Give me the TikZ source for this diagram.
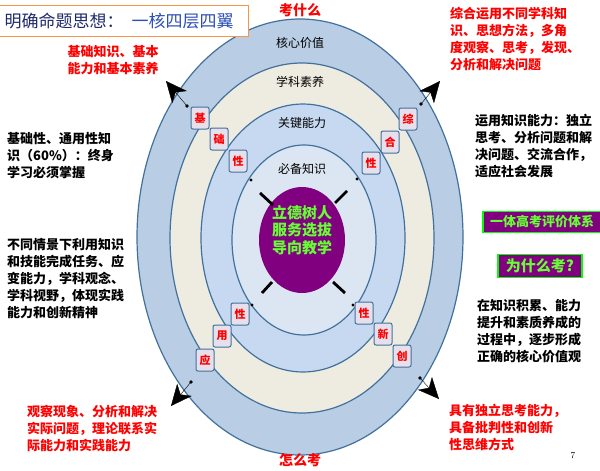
\documentclass[tikz,border=0pt]{standalone}
\usepackage{fontspec}
\newfontfamily\cjk{Noto Sans CJK SC}
\usetikzlibrary{arrows.meta}
\definecolor{ringline}{HTML}{41719C}
\definecolor{outerring}{HTML}{B9CDE5}
\definecolor{beigering}{HTML}{EEECE1}
\definecolor{keyring}{HTML}{C6D9F1}
\definecolor{basering}{HTML}{DCE6F2}
\definecolor{corepurple}{HTML}{800080}
\definecolor{coregreen}{HTML}{66FF33}
\definecolor{charfill}{HTML}{E6E0EC}
\definecolor{titleline}{HTML}{F79646}
\definecolor{titlenavy}{HTML}{1F2A6B}
\definecolor{titleblue}{HTML}{2D4FB8}

\begin{document}
\begin{tikzpicture}[x=1pt,y=-1pt,
  ring/.style={draw=ringline,line width=1.2pt},
  ringlabel/.style={font=\cjk\fontsize{12}{12}\selectfont},
  charbox/.style={draw=ringline,line width=1pt,fill=charfill,rounded corners=2pt,minimum width=18pt,minimum height=22pt,inner sep=0pt,text=red,font=\cjk\bfseries\fontsize{11}{11}\selectfont},
  note/.style={anchor=north west,inner sep=0pt,align=left,font=\cjk\bfseries\fontsize{13}{17}\selectfont},
  rednote/.style={note,text=red},
  greenbox/.style={draw=green,line width=1.2pt,fill=corepurple,text=coregreen,inner sep=4pt,font=\cjk\bfseries\fontsize{13}{13}\selectfont},
  wingarrow/.style={line width=0.4pt,-{Stealth[length=21pt,width=19pt,inset=6pt]}}]
\useasboundingbox (0,0) rectangle (600,471);
\fill[white] (0,0) rectangle (600,471);

\draw[ring,fill=outerring] (300,237) ellipse [x radius=163,y radius=218];
\draw[ring,fill=beigering] (302,238) ellipse [x radius=132,y radius=175];
\draw[ring,fill=keyring] (303,238) ellipse [x radius=102,y radius=134];
\draw[ring,fill=basering] (304,240) ellipse [x radius=72,y radius=95];
\fill[corepurple] (302,240) ellipse [x radius=43,y radius=53];

\node (core) at (302,230) [text=coregreen,align=center,inner sep=0pt,font=\cjk\bfseries\fontsize{15}{17.5}\selectfont] {立德树人\\服务选拔\\导向教学};
\node (value) at (300,43) [ringlabel] {核心价值};
\node (quality) at (300,82) [ringlabel] {学科素养};
\node (ability) at (302,123) [ringlabel] {关键能力};
\node (knowledge) at (302,169) [ringlabel] {必备知识};

\coordinate (ul1) at (260,193); \coordinate (ul2) at (273,205);
\coordinate (ur1) at (347,191); \coordinate (ur2) at (335,203);
\coordinate (ll1) at (262,293); \coordinate (ll2) at (272,282);
\coordinate (lr1) at (345,293); \coordinate (lr2) at (333,282);
\draw[line width=2.8pt] (ul1) -- (ul2);
\draw[line width=2.8pt] (ur1) -- (ur2);
\draw[line width=2.8pt] (ll1) -- (ll2);
\draw[line width=2.8pt] (lr1) -- (lr2);
\fill (251,180) circle (1.6) (357,179) circle (1.6) (252,305) circle (1.6) (353,305) circle (1.6);

\coordinate (dotul) at (187,106); \coordinate (tipul) at (166,81);
\coordinate (dotur) at (421,104); \coordinate (tipur) at (440,81);
\coordinate (dotll) at (191,382); \coordinate (tipll) at (171,406);
\coordinate (dotlr) at (420,378); \coordinate (tiplr) at (439,399);
\fill (dotul) circle (1.8) (dotur) circle (1.8) (dotll) circle (1.8) (dotlr) circle (1.8);
\draw[wingarrow] (dotul) -- (tipul);
\draw[wingarrow] (dotur) -- (tipur);
\draw[wingarrow] (dotll) -- (tipll);
\draw[wingarrow] (dotlr) -- (tiplr);

\node (ji) at (200,118) [charbox] {基};
\node (chu) at (219,139) [charbox] {础};
\node (xingA) at (238,161) [charbox] {性};
\node (zong) at (408,119) [charbox] {综};
\node (he) at (390,142) [charbox] {合};
\node (xingB) at (371,163) [charbox] {性};
\node (xingC) at (240,314) [charbox] {性};
\node (yong) at (222,336) [charbox] {用};
\node (ying) at (205,360) [charbox] {应};
\node (xingD) at (364,313) [charbox] {性};
\node (xin) at (383,334) [charbox] {新};
\node (chuang) at (402,356) [charbox] {创};

\node (title) at (-10,5) [anchor=north west,draw=titleline,line width=1.2pt,fill=white,text width=244pt,inner xsep=7pt,minimum height=31pt,align=left,font=\cjk\fontsize{17}{17}\selectfont] {\hspace*{7pt}\textcolor{titlenavy}{明确命题思想：}\hspace{8pt}\textcolor{titleblue}{一核四层四翼}};
\node (what) at (300,10) [text=red,font=\cjk\bfseries\fontsize{14}{14}\selectfont] {考什么};
\node (how) at (300,460) [text=red,font=\cjk\bfseries\fontsize{14}{14}\selectfont] {怎么考};
\node (system) at (542,222) [greenbox,minimum width=118pt] {一体高考评价体系};
\node (why) at (540,266) [greenbox,inner xsep=8pt,font=\cjk\bfseries\fontsize{15}{15}\selectfont] {为什么考?};

\node (basic) at (113,45) [rednote,align=center,anchor=north] {基础知识、基本\\能力和基本素养};
\node (basicnote) at (7,132) [note] {基础性、通用性知\\识（60\%）：终身\\学习必须掌握};
\node (applynote) at (7,238) [note] {不同情景下利用知识\\和技能完成任务、应\\变能力，学科观念、\\学科视野，体现实践\\能力和创新精神};
\node (applyred) at (27,405) [rednote] {观察现象、分析和解决\\实际问题，理论联系实\\际能力和实践能力};
\node (compred) at (450,7) [rednote] {综合运用不同学科知\\识、思想方法，多角\\度观察、思考，发现、\\分析和解决问题};
\node (compnote) at (475,114) [note] {运用知识能力：独立\\思考、分析问题和解\\决问题、交流合作，\\适应社会发展};
\node (valuenote) at (477,299) [note] {在知识积累、能力\\提升和素质养成的\\过程中，逐步形成\\正确的核心价值观};
\node (innored) at (449,404) [rednote] {具有独立思考能力，\\具备批判性和创新\\性思维方式};
\node (page) at (573,456) [font=\fontsize{9}{9}\selectfont] {7};
\end{tikzpicture}
\end{document}
